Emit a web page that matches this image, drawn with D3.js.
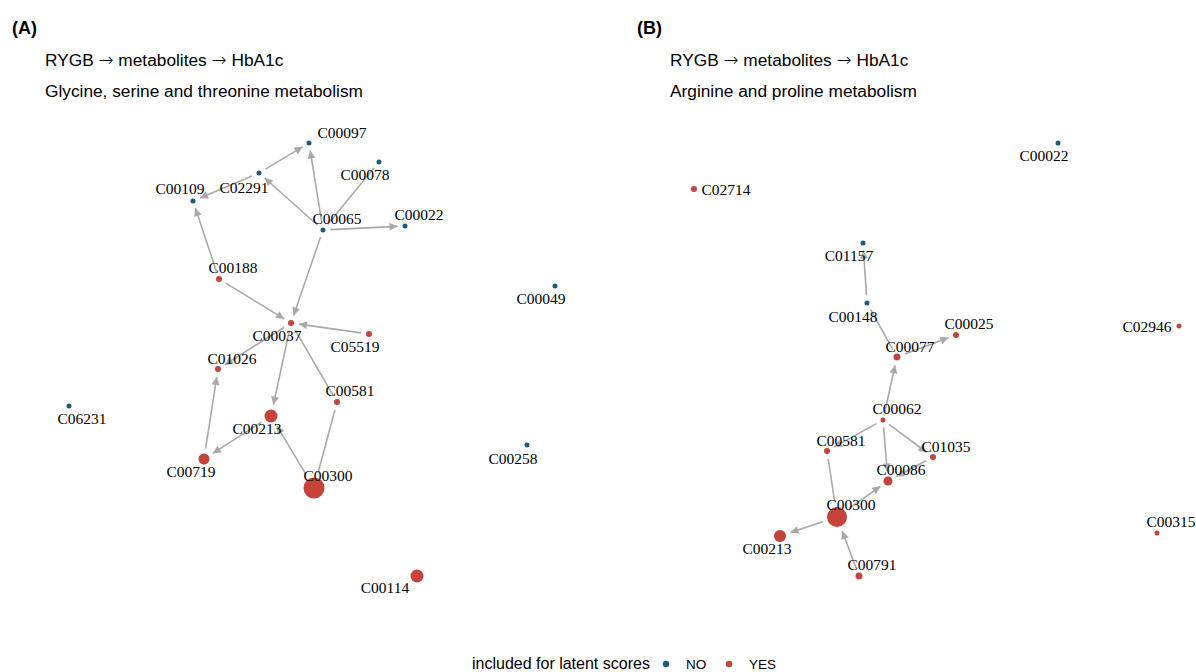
<!DOCTYPE html>
<html><head><meta charset="utf-8">
<script src="https://cdn.jsdelivr.net/npm/d3@7"></script>
<style>body{margin:0;background:#fff}svg{display:block}</style>
</head><body>
<svg id="chart" width="1196" height="672"></svg>
<script>
// ---------- data ----------
const panelTags = ["(A)", "(B)"];
const panelTitles = ["RYGB \u2192 metabolites \u2192 HbA1c", "RYGB \u2192 metabolites \u2192 HbA1c"];
const panelSubtitles = ["Glycine, serine and threonine metabolism", "Arginine and proline metabolism"];

// Panel A nodes: id, layout x, layout y, included (YES/NO), size weight
const nodeIdsA   = ["C00097","C02291","C00109","C00078","C00065","C00022","C00188","C00049","C00037","C05519","C01026","C00581","C00213","C00719","C00300","C06231","C00258","C00114"];
const nodeXA     = [309,259,193,379,323,405,219,555,291,369,218,337,271,204,314,69,527,417];
const nodeYA     = [143,173,201,162,230,226,279,286,323,334,369,402,416,459,488,406,445,576];
const includedA  = ["NO","NO","NO","NO","NO","NO","YES","NO","YES","YES","YES","YES","YES","YES","YES","NO","NO","YES"];
const weightA    = [0.057,0.057,0.057,0.057,0.057,0.057,0.082,0.057,0.082,0.082,0.082,0.082,0.383,0.274,1.0,0.057,0.057,0.383];
const edgesA = [
  ["C02291","C00097",true],["C02291","C00109",true],["C00065","C02291",true],["C00065","C00097",true],
  ["C00078","C00065",false],["C00065","C00022",true],["C00065","C00037",true],["C00188","C00109",true],
  ["C00188","C00037",true],["C05519","C00037",true],["C00037","C01026",true],["C00037","C00213",true],
  ["C00037","C00581",false],["C00719","C01026",true],["C00213","C00719",true],["C00300","C00213",true],
  ["C00581","C00300",false]
];

// Panel B nodes
const nodeIdsB   = ["C00022","C02714","C01157","C00148","C00025","C00077","C02946","C00062","C00581","C01035","C00086","C00300","C00213","C00791","C00315"];
const nodeXB     = [433,69,238,242,331,272,554,258,202,308,263,212,155,234,532];
const nodeYB     = [143,189,243,303,335,357,326,420,451,457,481,517,536,576,533];
const includedB  = ["NO","YES","NO","NO","YES","YES","YES","YES","YES","YES","YES","YES","YES","YES","YES"];
const weightB    = [0.057,0.082,0.057,0.057,0.082,0.111,0.057,0.057,0.082,0.082,0.184,0.907,0.327,0.111,0.057];
const edgesB = [
  ["C00148","C01157",true],["C00148","C00077",false],["C00077","C00025",true],["C00062","C00077",true],
  ["C00062","C00581",true],["C00062","C00086",true],["C00062","C01035",true],["C01035","C00086",true],
  ["C00300","C00086",true],["C00300","C00213",true],["C00791","C00300",true],["C00581","C00300",false]
];

// label placement (nudge of label centre from node, in px)
const labelNudge = {
  A: {C00097:[33,-11],C02291:[-15,14],C00109:[-13,-13],C00078:[-14,12],C00065:[14,-12],C00022:[14,-12],
      C00188:[14,-12],C00049:[-14,12],C00037:[-14,12],C05519:[-14,12],C01026:[14,-11],C00581:[13,-12],
      C00213:[-14,12],C00719:[-13,12],C00300:[14,-13],C06231:[13,12],C00258:[-14,13],C00114:[-32,11]},
  B: {C00022:[-14,12],C02714:[32,0],C01157:[-14,12],C00148:[-14,13],C00025:[13,-12],C00077:[13,-11],
      C02946:[-32,0],C00062:[14,-12],C00581:[14,-11],C01035:[13,-11],C00086:[13,-12],C00300:[14,-13],
      C00213:[-13,12],C00791:[13,-12],C00315:[14,-12]}
};

const legendTitle = "included for latent scores";
const legendKeys = ["NO","YES"];
const colors = {NO:"#1b5c7d", YES:"#c4433a"};

// ---------- drawing ----------
const svg = d3.select("#chart");
const rScale = d3.scaleSqrt().domain([0,1]).range([0,10.5]);
const color = d3.scaleOrdinal().domain(legendKeys).range([colors.NO, colors.YES]);
const sans = "Liberation Sans, Arial, Helvetica, sans-serif";

const defs = svg.append("defs");
defs.append("marker").attr("id","arrow").attr("viewBox","0 0 10 10")
  .attr("refX",10).attr("refY",5).attr("markerWidth",10.5).attr("markerHeight",8)
  .attr("markerUnits","userSpaceOnUse").attr("orient","auto")
  .append("path").attr("d","M0,0L10,5L0,10z").attr("fill","#a9a9a9");

const panels = [
  {key:"A", ids:nodeIdsA, xs:nodeXA, ys:nodeYA, inc:includedA, w:weightA, edges:edgesA, ox:0},
  {key:"B", ids:nodeIdsB, xs:nodeXB, ys:nodeYB, inc:includedB, w:weightB, edges:edgesB, ox:625}
];

panels.forEach((p,i) => {
  const g = svg.append("g");
  const x = d3.scaleLinear().domain([0,570]).range([p.ox, p.ox+570]);
  const y = d3.scaleLinear().domain([0,672]).range([0,672]);

  g.append("text").attr("x", p.ox+12).attr("y",34).text(panelTags[i])
    .attr("font-family",sans).attr("font-weight","bold").attr("font-size",18);
  const t = g.append("text").attr("x", p.ox+45).attr("y",66)
    .attr("font-family",sans).attr("font-size",17.3);
  panelTitles[i].split("\u2192").forEach((part,k,arr) => {
    t.append("tspan").text(part);
    if (k < arr.length-1) t.append("tspan").attr("font-family","DejaVu Sans, sans-serif").attr("font-size",18).attr("font-weight",200).text("\u2192");
  });
  g.append("text").attr("x", p.ox+45).attr("y",97).text(panelSubtitles[i])
    .attr("font-family",sans).attr("font-size",17.3);

  const nodes = p.ids.map((id,k) => ({id, x:x(p.xs[k]), y:y(p.ys[k]), inc:p.inc[k], r:rScale(p.w[k])}));
  const byId = new Map(nodes.map(n => [n.id,n]));

  g.selectAll("line.edge").data(p.edges).join("line").attr("class","edge")
    .each(function(e){
      const s = byId.get(e[0]), t = byId.get(e[1]);
      const dx = t.x - s.x, dy = t.y - s.y, L = Math.hypot(dx,dy);
      const ux = dx/L, uy = dy/L;
      const cs = s.r + 5, ct = t.r + 5;
      d3.select(this).attr("x1", s.x+ux*cs).attr("y1", s.y+uy*cs)
        .attr("x2", t.x-ux*ct).attr("y2", t.y-uy*ct);
    })
    .attr("stroke","#a9a9a9").attr("stroke-width",1.6)
    .attr("marker-end", e => e[2] ? "url(#arrow)" : null);

  g.selectAll("circle.node").data(nodes).join("circle").attr("class","node")
    .attr("cx", d=>d.x).attr("cy", d=>d.y).attr("r", d=>d.r).attr("fill", d=>color(d.inc));

  g.selectAll("text.lab").data(nodes).join("text").attr("class","lab")
    .attr("x", d => d.x + labelNudge[p.key][d.id][0])
    .attr("y", d => d.y + labelNudge[p.key][d.id][1])
    .attr("text-anchor","middle").attr("dominant-baseline","central")
    .attr("font-family","Liberation Serif, Times New Roman, serif").attr("font-size",15.5)
    .attr("fill","#000").text(d=>d.id);
});

// legend
const lg = svg.append("g");
lg.append("text").attr("x",472).attr("y",669).text(legendTitle)
  .attr("font-family",sans).attr("font-size",16);
const keyX = d3.scalePoint().domain(legendKeys).range([666,729]);
legendKeys.forEach(k => {
  lg.append("circle").attr("cx",keyX(k)).attr("cy",664).attr("r",3.2).attr("fill",color(k));
  lg.append("text").attr("x",keyX(k)+20).attr("y",669).text(k)
    .attr("font-family",sans).attr("font-size",13.5);
});
</script>
</body></html>
